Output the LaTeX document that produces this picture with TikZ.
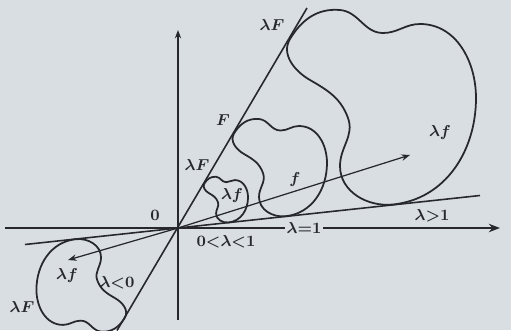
\documentclass[tikz,border=0pt]{standalone}
\usepackage{amsmath,amssymb}
\usepackage{tikz}
\usetikzlibrary{positioning,arrows.meta,calc}
\usepackage{xcolor}
\definecolor{paper}{RGB}{216,222,226}
\definecolor{pencil}{RGB}{38,40,44}

% one closed curve F, drawn about the origin and scaled by lambda
\newcommand{\blobpath}{(1.12,1.89) to[out=59,in=175] (1.62,2.18) to[out=-5,in=180] (2.05,1.95)
  to[out=0,in=180] (2.42,2.04) to[out=0,in=90] (2.98,1.30) to[out=-90,in=6] (2.15,0.235)
  to[out=186,in=-90] (1.62,0.62) to[out=90,in=-70] (1.70,1.10) to[out=110,in=-30] (1.32,1.48)
  to[out=150,in=-121] (1.12,1.89) -- cycle}

\begin{document}
\begin{tikzpicture}[
  axis/.style={pencil,line width=1.1pt},
  ray/.style={pencil,line width=0.9pt},
  curve/.style={pencil,line width=1pt},
  vec/.style={-{Stealth[scale=0.8]},pencil,line width=0.7pt},
  lbl/.style={text=pencil,font=\boldmath\small,inner sep=1pt}
]
\fill[paper] (-3.56,-2.04) rectangle (6.66,4.56);
\useasboundingbox (-3.56,-2.04) rectangle (6.66,4.56);

\coordinate (O) at (0,0);
\coordinate (xl) at (-3.46,0);
\coordinate (xr) at (6.44,0);
\coordinate (yb) at (0,-1.84);
\coordinate (yt) at (0,3.96);
\coordinate (Fb) at (-1.22,-2.05);
\coordinate (Ft) at (2.58,4.40);
\coordinate (Gl) at (-3.06,-0.33);
\coordinate (Gr) at (6.04,0.65);
\coordinate (vp) at (4.64,1.46);
\coordinate (vn) at (-2.20,-0.64);

% axes
\draw[axis,-{Stealth[scale=0.8]}] (xl) -- (xr);
\draw[axis,-{Stealth[scale=0.6]}] (yb) -- (yt);

% the two bounding rays of the cone
\draw[ray] (Fb) -- (Ft);
\draw[ray] (Gl) -- (Gr);

% F and its multiples
\draw[curve,scale=0.47] \blobpath;
\draw[curve] \blobpath;
\draw[curve,scale=2] \blobpath;
\draw[curve,scale=-0.95] \blobpath;

\draw[vec] (O) -- (vp);
\draw[vec] (O) -- (vn);

\node[lbl] (lFtop) at (1.88,4.06) {$\lambda F$};
\node[lbl] (Flab) at (0.90,2.16) {$F$};
\node[lbl] (lFmid) at (0.38,1.26) {$\lambda F$};
\node[lbl] (zero) at (-0.46,0.26) {$0$};
\node[lbl] (lsmall) at (0.96,-0.28) {$0{<}\lambda{<}1$};
\node[lbl,fill=paper] (lone) at (2.52,0) {$\lambda{=}1$};
\node[lbl] (lbig) at (5.08,0.25) {$\lambda{>}1$};
\node[lbl] (lneg) at (-1.22,-1.10) {$\lambda{<}0$};
\node[lbl] (lFneg) at (-3.12,-1.58) {$\lambda F$};
\node[lbl] (lfneg) at (-2.22,-0.96) {$\lambda f$};
\node[lbl] (flab) at (2.34,0.96) {$f$};
\node[lbl] (lfsm) at (1.08,0.64) {$\lambda f$};
\node[lbl] (lfbig) at (5.24,1.90) {$\lambda f$};
\end{tikzpicture}
\end{document}
